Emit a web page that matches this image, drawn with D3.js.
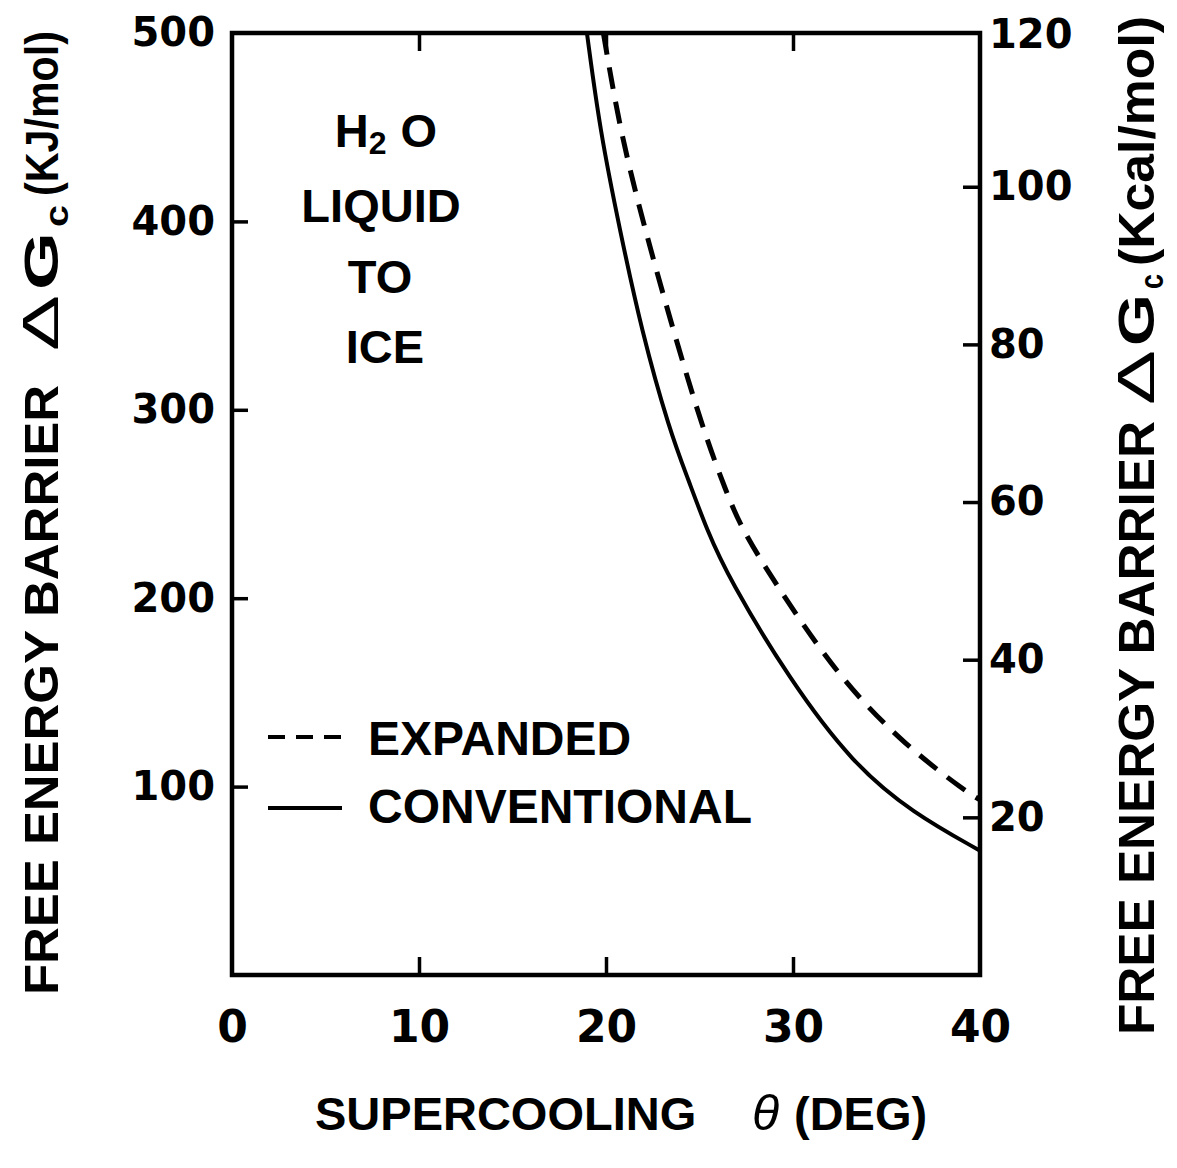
<!DOCTYPE html>
<html>
<head>
<meta charset="utf-8">
<script src="https://cdn.jsdelivr.net/npm/d3@7"></script>
<style>
  html, body { margin: 0; padding: 0; background: #fff; }
  svg { display: block; }
</style>
</head>
<body>
<svg id="chart" width="1177" height="1168"></svg>
<script>
// Free energy barrier for ice nucleation vs supercooling
const conventionalTheta = [18.98, 19.68, 20.75, 21.9, 23.4, 24.4, 25.4, 26.6, 29.8, 33.2, 36.4, 40.0];
const conventionalG     = [500,   448,   395,   342,  289,  263,  236,  210,  157,  112,  86,   66];
const expandedTheta = [19.86, 20.75, 22.1, 23.6, 25.2, 26.45, 27.2, 28.9, 32.5, 36.1, 39.3, 40.0];
const expandedG     = [500,   448,   395,  342,  289,  256,   238,  210,  157,  121,  97,   93];

const thetaTicks = [0, 10, 20, 30, 40];
const topTicks = [10, 20, 30];
const kjTicks = [100, 200, 300, 400, 500];
const kcalTicks = [20, 40, 60, 80, 100, 120];
const KJ_PER_KCAL = 4.184;

const legendLabels = ["EXPANDED", "CONVENTIONAL"];
const noteLines = ["LIQUID", "TO", "ICE"];

const SANS = "'Liberation Sans', Arial, Helvetica, sans-serif";
const WIDE = "'DejaVu Sans', Verdana, sans-serif";

const svg = d3.select("#chart");
const L = 232, R = 980, T = 33, B = 975;

const x = d3.scaleLinear().domain([0, 40]).range([L, R]);
const y = d3.scaleLinear().domain([0, 500]).range([B, T]);
const yKcal = d3.scaleLinear().domain([0, 500 / KJ_PER_KCAL]).range([B, T]);

function styleAxis(g, size, family) {
  g.select(".domain").remove();
  g.selectAll(".tick line").attr("stroke", "#000").attr("stroke-width", 3.5);
  g.selectAll(".tick text")
    .attr("fill", "#000")
    .attr("font-family", family)
    .attr("font-weight", "bold")
    .attr("font-size", size);
}

// bottom axis (inward ticks)
svg.append("g")
  .attr("transform", `translate(0,${B})`)
  .call(d3.axisBottom(x).tickValues(thetaTicks).tickSize(-18).tickPadding(36).tickFormat(d3.format("d")))
  .call(g => styleAxis(g, 44, WIDE))
  .call(g => g.selectAll(".tick").filter(d => d === 0 || d === 40).select("line").remove());

// top axis: ticks only
svg.append("g")
  .attr("transform", `translate(0,${T})`)
  .call(d3.axisTop(x).tickValues(topTicks).tickSize(-18).tickFormat(""))
  .call(g => styleAxis(g, 10, WIDE));

// left axis, kJ/mol
svg.append("g")
  .attr("transform", `translate(${L},0)`)
  .call(d3.axisLeft(y).tickValues(kjTicks).tickSize(-16).tickPadding(17).tickFormat(d3.format("d")))
  .call(g => styleAxis(g, 40, WIDE))
  .call(g => g.selectAll(".tick").filter(d => d === 500).select("line").remove());

// right axis, kcal/mol
svg.append("g")
  .attr("transform", `translate(${R},0)`)
  .call(d3.axisRight(yKcal).tickValues(kcalTicks).tickSize(-17).tickPadding(9).tickFormat(d3.format("d")))
  .call(g => styleAxis(g, 40, WIDE))
  .call(g => g.selectAll(".tick").filter(d => d === 120).select("line").remove())
  .call(g => g.selectAll(".tick").filter(d => d === 120).select("text").attr("dy", "0.45em"));

// plot frame
svg.append("rect")
  .attr("x", L).attr("y", T)
  .attr("width", R - L).attr("height", B - T)
  .attr("fill", "none").attr("stroke", "#000").attr("stroke-width", 4.5);

// curves
const line = d3.line()
  .x(d => x(d[0]))
  .y(d => y(d[1]))
  .curve(d3.curveBasis);

svg.append("path")
  .datum(d3.zip(conventionalTheta, conventionalG))
  .attr("d", line)
  .attr("fill", "none").attr("stroke", "#000").attr("stroke-width", 4);

svg.append("path")
  .datum(d3.zip(expandedTheta, expandedG))
  .attr("d", line)
  .attr("fill", "none").attr("stroke", "#000").attr("stroke-width", 5)
  .attr("stroke-dasharray", "22,13");

// legend
const legend = svg.append("g");
legend.append("line")
  .attr("x1", 268).attr("x2", 342).attr("y1", 737).attr("y2", 737)
  .attr("stroke", "#000").attr("stroke-width", 4).attr("stroke-dasharray", "17,11");
legend.append("line")
  .attr("x1", 268).attr("x2", 342).attr("y1", 808).attr("y2", 808)
  .attr("stroke", "#000").attr("stroke-width", 4);
legend.selectAll("text")
  .data(legendLabels)
  .join("text")
  .attr("x", 368)
  .attr("y", (d, i) => [755, 823][i])
  .attr("font-family", SANS).attr("font-weight", "bold").attr("font-size", 48)
  .text(d => d);

// note: H2O liquid to ice
const note = svg.append("g")
  .attr("font-family", SANS).attr("font-weight", "bold").attr("font-size", 47)
  .attr("text-anchor", "middle");
const h2o = note.append("text").attr("x", 386).attr("y", 147);
h2o.append("tspan").text("H");
h2o.append("tspan").attr("font-size", 32).attr("dy", 7).text("2");
h2o.append("tspan").attr("dy", -7).attr("dx", 14).text("O");
note.selectAll("text.line")
  .data(noteLines)
  .join("text")
  .attr("class", "line")
  .attr("x", (d, i) => [381, 380, 385][i])
  .attr("y", (d, i) => [222, 293, 363][i])
  .text(d => d);

// x axis title
const xt = svg.append("text")
  .attr("y", 1130)
  .attr("font-family", SANS).attr("font-weight", "bold").attr("font-size", 47);
xt.append("tspan").attr("x", 315).text("SUPERCOOLING");
xt.append("tspan").attr("x", 752).attr("font-style", "italic").attr("font-weight", "normal").attr("font-size", 50).text("θ");
xt.append("tspan").attr("x", 794).text("(DEG)");

// vertical titles: each piece spans [from, to] in page y, reading upward
function yTitle(baseX, pieces) {
  const g = svg.append("g")
    .attr("transform", `translate(${baseX},0) rotate(-90)`)
    .attr("font-family", SANS).attr("font-weight", "bold");
  pieces.forEach(p => {
    g.append("text")
      .attr("x", -p.from)
      .attr("y", p.shift || 0)
      .attr("font-size", p.size)
      .attr("font-weight", p.weight || "bold")
      .attr("textLength", p.from - p.to)
      .attr("lengthAdjust", "spacingAndGlyphs")
      .text(p.text);
  });
}
yTitle(58, [
  { text: "FREE ENERGY BARRIER", from: 995, to: 385, size: 48 },
  { text: "\u0394", from: 351, to: 295, size: 50, weight: "normal" },
  { text: "G", from: 290, to: 232, size: 48 },
  { text: "c", from: 227, to: 205, size: 34, shift: 10 },
  { text: "(KJ/mol)", from: 196, to: 31, size: 46 }
]);
yTitle(1154, [
  { text: "FREE ENERGY BARRIER", from: 1035, to: 421, size: 50 },
  { text: "\u0394", from: 405, to: 350, size: 52, weight: "normal" },
  { text: "G", from: 346, to: 294, size: 50 },
  { text: "c", from: 289, to: 274, size: 34, shift: 9 },
  { text: "(Kcal/mol)", from: 266, to: 16, size: 50 }
]);
</script>
</body>
</html>
